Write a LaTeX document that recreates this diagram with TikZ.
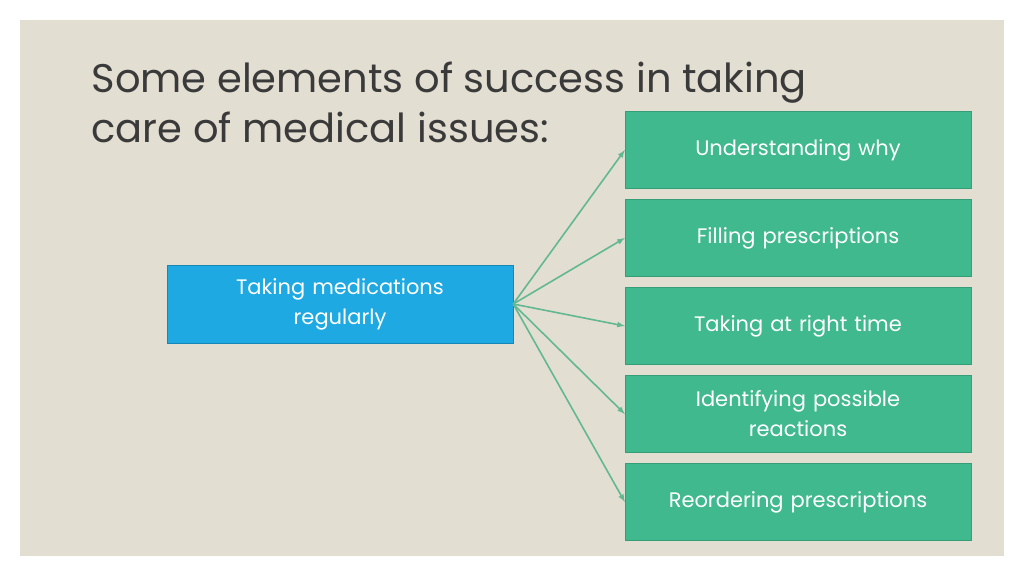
\documentclass[tikz,border=0pt]{standalone}
\usepackage{fontspec}
\setmainfont{Poppins}
\usetikzlibrary{positioning}
\definecolor{bgbeige}{HTML}{E3DED2}
\definecolor{titlegray}{HTML}{3A3A3A}
\definecolor{mainblue}{HTML}{1EA9E2}
\definecolor{stepgreen}{HTML}{40B98E}
\definecolor{arrowgreen}{HTML}{62B991}
\tikzset{
  mainbox/.style={draw=mainblue!80!black,fill=mainblue,minimum width=346pt,minimum height=78pt,
    text=white,font=\fontsize{21}{30}\selectfont,align=center,text width=330pt},
  stepbox/.style={draw=stepgreen!85!black,fill=stepgreen,minimum width=346pt,minimum height=77pt,
    text=white,font=\fontsize{21}{30}\selectfont,align=center,text width=330pt},
  link/.style={draw=arrowgreen,line width=1.6pt,-latex}
}
\begin{document}
\begin{tikzpicture}[x=1pt,y=-1pt]
    \useasboundingbox (0,0) rectangle (1024,576);
    \fill[bgbeige] (20,20) rectangle (1004,556);

    \node[anchor=north west,text=titlegray,align=left,font=\fontsize{40}{50}\selectfont] (title) at (88,58)
        {Some elements of success in taking\\care of medical issues:};

    \node[mainbox] (meds) at (340,304) {Taking medications\\regularly\\[-6pt]};

    \node[stepbox] (s1) at (798,150) {Understanding why};
    \node[stepbox] (s2) at (798,238) {Filling prescriptions};
    \node[stepbox] (s3) at (798,326) {Taking at right time};
    \node[stepbox] (s4) at (798,414) {Identifying possible\\reactions};
    \node[stepbox] (s5) at (798,502) {Reordering prescriptions};

    \foreach \s in {s1,s2,s3,s4,s5}
        \draw[link] (meds.east) -- (\s.west);
\end{tikzpicture}
\end{document}
